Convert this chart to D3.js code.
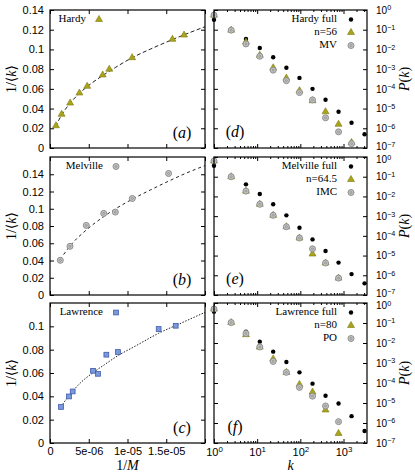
<!DOCTYPE html>
<meta charset="utf-8">
<title>Network degree panels</title>
<style>
body {
  margin: 0;
  background: #fff;
}
svg {
  font-family: "Liberation Serif", "DejaVu Serif", serif;
}
</style>
<svg width="415" height="474"></svg>
<script src="https://cdn.jsdelivr.net/npm/d3@7"></script>
<script>

// ---- left column: 1/<k> against 1/M ----
var hardyInvM = [0.77e-6, 1.5e-6, 2.6e-6, 3.8e-6, 4.8e-6, 6.8e-6, 7.65e-6, 10.6e-6, 15.8e-6, 17.3e-6];
var hardyInvK = [0.0226, 0.0342, 0.0456, 0.0558, 0.0626, 0.0741, 0.0799, 0.0916, 0.1103, 0.1146];
var hardyFitX = [0.7e-6, 1.5e-6, 2.6e-6, 3.8e-6, 5e-6, 6.8e-6, 8.5e-6, 10.6e-6, 13e-6, 15.8e-6, 18e-6, 20e-6];
var hardyFitY = [0.0215, 0.0335, 0.0455, 0.0555, 0.0635, 0.0735, 0.082, 0.0916, 0.1005, 0.110, 0.117, 0.123];

var melvilleInvM = [1.33e-6, 2.58e-6, 4.68e-6, 6.93e-6, 8.43e-6, 10.62e-6, 15.3e-6];
var melvilleInvK = [0.0402, 0.0564, 0.0807, 0.0946, 0.0961, 0.1119, 0.1409];
var melvilleFitX = [1.3e-6, 2.6e-6, 4.7e-6, 7e-6, 10.6e-6, 13e-6, 15.3e-6, 17.5e-6, 20e-6];
var melvilleFitY = [0.041, 0.057, 0.0755, 0.0913, 0.111, 0.122, 0.132, 0.141, 0.150];

var lawrenceInvM = [1.42e-6, 2.45e-6, 2.93e-6, 5.55e-6, 6.19e-6, 7.27e-6, 8.77e-6, 14.02e-6, 16.22e-6];
var lawrenceInvK = [0.0309, 0.0399, 0.0442, 0.0619, 0.0593, 0.0757, 0.0780, 0.0977, 0.1005];
var lawrenceFitX = [1.4e-6, 2.5e-6, 4e-6, 5.5e-6, 7e-6, 8.8e-6, 11e-6, 14e-6, 17e-6, 20e-6];
var lawrenceFitY = [0.031, 0.041, 0.052, 0.060, 0.067, 0.075, 0.083, 0.094, 0.103, 0.112];

var invMTicks = [0, 5e-6, 1e-5, 1.5e-5, 2e-5];
var invMLabels = ["0", "5e-06", "1e-05", "1.5e-05", ""];

// ---- right column: P(k) against k ----
var kBins = [1, 2.5, 5.5, 11.5, 23.5, 47.5, 95.5, 191.5, 383.5, 767.5, 1535.5, 3071.5];

var hardyFull = [0.32, 0.095, 0.034, 0.0119, 0.0040, 0.00117, 3.6e-4, 1.0e-4, 2.8e-5, 6.9e-6, 1.9e-6, 5.0e-7];
var hardyN56  = [0.55, 0.095, 0.024, 0.0050, 0.00117, 3.5e-4, 8.1e-5, 2.5e-5, 6.9e-6, 1.6e-6, 1.9e-7];
var hardyMV   = [0.55, 0.095, 0.019, 0.0045, 8.9e-4, 2.6e-4, 6.5e-5, 2.75e-5, 3.4e-6, 6.6e-7, 1.66e-7];

var melvilleFull = [0.36, 0.10, 0.041, 0.0132, 0.0040, 0.0011, 2.6e-4, 6.6e-5, 1.7e-5, 4.4e-6, 1.15e-6, 3.9e-7];
var melvilleN645 = [0.63, 0.10, 0.0186, 0.0040, 0.0011, 2.9e-4, 7.8e-5, 1.2e-5, 4.2e-6, 7.2e-7];
var melvilleIMC  = [0.63, 0.10, 0.0186, 0.0040, 0.0011, 2.9e-4, 7.8e-5, 2.2e-5, 4.2e-6, 7.2e-7];

var lawrenceFull = [0.37, 0.105, 0.037, 0.0117, 0.0037, 0.00112, 3.4e-4, 9.3e-5, 2.3e-5, 9.5e-6, 2.2e-6, 4.0e-7];
var lawrenceN80  = [0.50, 0.105, 0.026, 0.0063, 0.0016, 3.4e-4, 8.5e-5, 3.5e-5, 4.5e-6, 3.0e-7];
var lawrencePO   = [0.50, 0.105, 0.030, 0.0063, 0.0012, 3.4e-4, 6.0e-5, 2.2e-5, 7.1e-6, 1.17e-6];

var pTicks = [1, 1e-1, 1e-2, 1e-3, 1e-4, 1e-5, 1e-6, 1e-7];
var kTicks = [1, 10, 100, 1000];

var svg = d3.select("svg");

var leftX = [50, 205], rightX = [214, 367];
var rows = [[10, 148], [157, 295], [303, 443]];

var xInvM = d3.scaleLinear().domain([0, 2e-5]).range(leftX);
var xK = d3.scaleLog().domain([1, 3500]).range(rightX);

var olive = "#aaa41c", oliveDark = "#7c780e";

function marker(g, type, x, y) {
  if (type === "dot") {
    g.append("circle").attr("cx", x).attr("cy", y).attr("r", 2.2).attr("fill", "#000");
  } else if (type === "tri") {
    g.append("path")
        .attr("d", d3.symbol(d3.symbolTriangle).size(21)())
        .attr("transform", "translate(" + [x, y] + ")")
        .attr("fill", olive).attr("stroke", oliveDark).attr("stroke-width", 0.6);
  } else if (type === "circ") {
    g.append("circle").attr("cx", x).attr("cy", y).attr("r", 3)
        .attr("fill", "#c4c4c4").attr("stroke", "#8e8e8e").attr("stroke-width", 1);
    g.append("circle").attr("cx", x).attr("cy", y).attr("r", 1)
        .attr("fill", "none").attr("stroke", "#8e8e8e").attr("stroke-width", 0.8);
  } else if (type === "sq") {
    g.append("rect").attr("x", x - 2.4).attr("y", y - 2.4).attr("width", 4.8).attr("height", 4.8)
        .attr("fill", "#7d98d8").attr("stroke", "#3d5cae").attr("stroke-width", 0.8);
  }
}

function tickGroup(axis, tx, ty) {
  var g = svg.append("g").attr("transform", "translate(" + [tx, ty] + ")").call(axis);
  g.select(".domain").remove();
  g.selectAll("line").attr("stroke", "#000");
  g.selectAll("text").attr("fill", "#000").attr("font-size", 11).attr("font-family", null);
  return g;
}

function frame(x, r) {
  svg.append("rect")
      .attr("x", x[0]).attr("y", r[0])
      .attr("width", x[1] - x[0]).attr("height", r[1] - r[0])
      .attr("fill", "none").attr("stroke", "#000").attr("stroke-width", 1.2);
}

function mathText(sel, parts) {
  parts.forEach(function(p) {
    sel.append("tspan").attr("font-style", p[1] ? "italic" : "normal").text(p[0]);
  });
}

function powerLabel(text, v) {
  var e = Math.round(Math.log10(v));
  text.text("10");
  text.append("tspan").attr("dy", "-0.45em").attr("font-size", "0.72em")
      .text(e < 0 ? "\u2212" + (-e) : String(e));
}

// ---- left panels ----
var leftPanels = [
  { invM: hardyInvM, invK: hardyInvK, fitX: hardyFitX, fitY: hardyFitY, max: 0.14,
    ticks: [0, 0.02, 0.04, 0.06, 0.08, 0.1, 0.12, 0.14], mark: "tri", name: "Hardy", legX: 99,
    dash: "4,2.5", tag: "a" },
  { invM: melvilleInvM, invK: melvilleInvK, fitX: melvilleFitX, fitY: melvilleFitY, max: 0.16,
    ticks: [0, 0.02, 0.04, 0.06, 0.08, 0.1, 0.12, 0.14], mark: "circ", name: "Melville", legX: 116,
    dash: "3,3", tag: "b" },
  { invM: lawrenceInvM, invK: lawrenceInvK, fitX: lawrenceFitX, fitY: lawrenceFitY, max: 0.12,
    ticks: [0, 0.02, 0.04, 0.06, 0.08, 0.1], mark: "sq", name: "Lawrence", legX: 116,
    dash: "1.5,1.5", tag: "c" }
];

leftPanels.forEach(function(p, i) {
  var r = rows[i];
  var y = d3.scaleLinear().domain([0, p.max]).range([r[1], r[0]]);

  tickGroup(d3.axisLeft(y).tickValues(p.ticks).tickSize(-4).tickPadding(6)
      .tickFormat(function(d) { return String(+d.toFixed(2)); }), leftX[0], 0);
  tickGroup(d3.axisRight(y).tickValues(p.ticks).tickSize(-4).tickFormat(""), leftX[1], 0);
  tickGroup(d3.axisBottom(xInvM).tickValues(invMTicks).tickSize(-4).tickPadding(4)
      .tickFormat(function(d, j) { return i === 2 ? invMLabels[j] : ""; }), 0, r[1]);
  tickGroup(d3.axisTop(xInvM).tickValues(invMTicks).tickSize(-4).tickFormat(""), 0, r[0]);

  var fit = p.fitX.map(function(x, j) { return [x, p.fitY[j]]; });
  svg.append("path")
      .datum(fit)
      .attr("fill", "none")
      .attr("stroke", "#222")
      .attr("stroke-width", 1)
      .attr("stroke-dasharray", p.dash)
      .attr("d", d3.line()
          .x(function(d) { return xInvM(d[0]); })
          .y(function(d) { return y(d[1]); })
          .curve(d3.curveMonotoneX));

  var g = svg.append("g");
  p.invM.forEach(function(x, j) { marker(g, p.mark, xInvM(x), y(p.invK[j])); });

  // key
  svg.append("text").attr("x", p.legX - 13).attr("y", r[0] + 9.5)
      .attr("text-anchor", "end").attr("dominant-baseline", "middle")
      .attr("font-size", 11).text(p.name);
  marker(g, p.mark, p.legX, r[0] + 9.5);

  var t = svg.append("text").attr("x", 182).attr("y", r[1] - 14)
      .attr("text-anchor", "middle").attr("dominant-baseline", "middle").attr("font-size", 16);
  mathText(t, [["(", false], [p.tag, true], [")", false]]);

  var yt = svg.append("text")
      .attr("transform", "translate(" + [13, (r[0] + r[1]) / 2] + ") rotate(-90)")
      .attr("text-anchor", "middle").attr("dominant-baseline", "middle").attr("font-size", 14);
  mathText(yt, [["1/\u27e8", false], ["k", true], ["\u27e9", false]]);

  frame(leftX, r);
});

var xt = svg.append("text").attr("x", (leftX[0] + leftX[1]) / 2).attr("y", 467)
    .attr("text-anchor", "middle").attr("dominant-baseline", "middle").attr("font-size", 14);
mathText(xt, [["1/", false], ["M", true]]);

// ---- right panels ----
var rightPanels = [
  { series: [hardyFull, hardyN56, hardyMV], names: ["Hardy full", "n=56", "MV"], tag: "d" },
  { series: [melvilleFull, melvilleN645, melvilleIMC], names: ["Melville full", "n=64.5", "IMC"], tag: "e" },
  { series: [lawrenceFull, lawrenceN80, lawrencePO], names: ["Lawrence full", "n=80", "PO"], tag: "f" }
];
var marks = ["dot", "tri", "circ"];

var kMinor = [];
[1, 10, 100, 1000].forEach(function(b) {
  for (var m = 2; m < 10; m++) if (b * m < 3500) kMinor.push(b * m);
});

rightPanels.forEach(function(p, i) {
  var r = rows[i];
  var y = d3.scaleLog().domain([1e-7, 1]).range([r[1], r[0]]);

  tickGroup(d3.axisLeft(y).tickValues(pTicks).tickSize(-4).tickFormat(""), rightX[0], 0);
  var ry = tickGroup(d3.axisRight(y).tickValues(pTicks).tickSize(-4).tickPadding(9)
      .tickFormat(""), rightX[1], 0);
  ry.selectAll(".tick text").attr("font-size", 10)
      .each(function(d) { powerLabel(d3.select(this), d); });
  // the stacked panels share an edge: nudge the end labels apart a little
  ry.selectAll(".tick text").filter(function(d) { return d === 1 && i > 0; }).attr("y", 2.5);
  ry.selectAll(".tick text").filter(function(d) { return d === 1e-7 && i < 2; }).attr("y", -1.5);

  var bx = tickGroup(d3.axisBottom(xK).tickValues(kTicks).tickSize(-4).tickPadding(5)
      .tickFormat(""), 0, r[1]);
  if (i === 2) bx.selectAll(".tick text").each(function(d) { powerLabel(d3.select(this), d); });
  tickGroup(d3.axisTop(xK).tickValues(kTicks).tickSize(-4).tickFormat(""), 0, r[0]);
  tickGroup(d3.axisBottom(xK).tickValues(kMinor).tickSize(-2).tickFormat(""), 0, r[1]);
  tickGroup(d3.axisTop(xK).tickValues(kMinor).tickSize(-2).tickFormat(""), 0, r[0]);

  var g = svg.append("g");
  p.series.forEach(function(s, si) {
    s.forEach(function(v, j) { marker(g, marks[si], xK(kBins[j]), y(v)); });
  });

  p.names.forEach(function(n, si) {
    var ly = r[0] + 9.5 + si * 13;
    svg.append("text").attr("x", 337).attr("y", ly)
        .attr("text-anchor", "end").attr("dominant-baseline", "middle")
        .attr("font-size", 11).text(n);
    marker(g, marks[si], 351, ly);
  });

  var t = svg.append("text").attr("x", 235).attr("y", r[1] - 15)
      .attr("text-anchor", "middle").attr("dominant-baseline", "middle").attr("font-size", 16);
  mathText(t, [["(", false], [p.tag, true], [")", false]]);

  var yt = svg.append("text")
      .attr("transform", "translate(" + [406, (r[0] + r[1]) / 2] + ") rotate(-90)")
      .attr("text-anchor", "middle").attr("dominant-baseline", "middle").attr("font-size", 14);
  mathText(yt, [["P", true], ["(", false], ["k", true], [")", false]]);

  frame(rightX, r);
});

var kt = svg.append("text").attr("x", (rightX[0] + rightX[1]) / 2).attr("y", 467)
    .attr("text-anchor", "middle").attr("dominant-baseline", "middle").attr("font-size", 14);
mathText(kt, [["k", true]]);

</script>
